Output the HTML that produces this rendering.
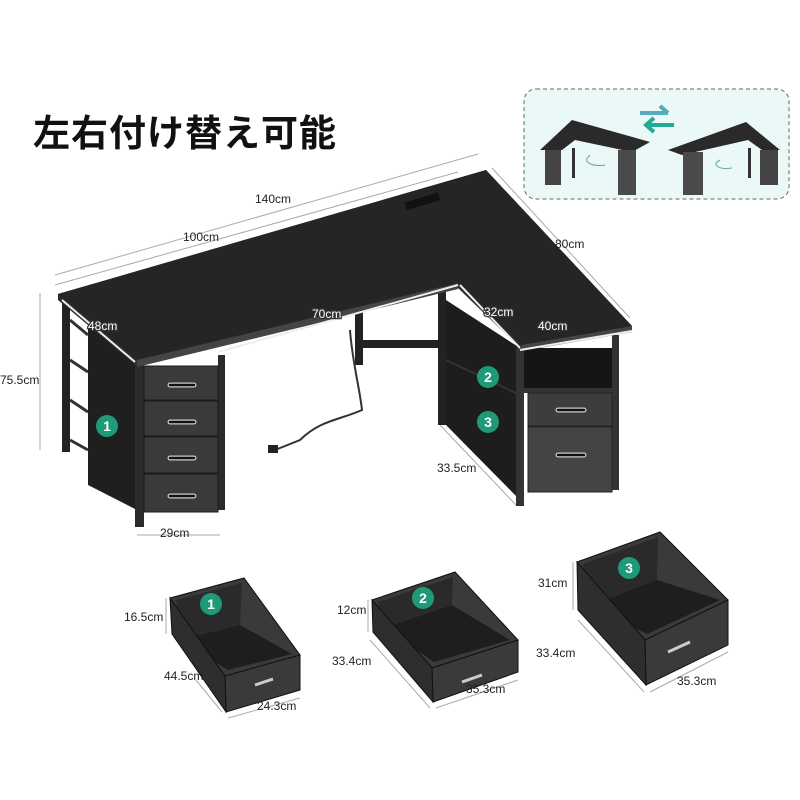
<!DOCTYPE html>
<html><head><meta charset="utf-8"><style>
body{margin:0;background:#fff;width:800px;height:800px;overflow:hidden;font-family:"Liberation Sans","Noto Sans CJK JP",sans-serif}
svg{position:absolute;left:0;top:0}
.t{font-size:12px;fill:#222}
.w{font-size:12px;fill:#fff;stroke:#333;stroke-width:2.5px;paint-order:stroke}
.title{position:absolute;left:33px;top:103px;font-size:37px;font-weight:bold;color:#111;letter-spacing:1px;font-family:"Noto Sans CJK JP",sans-serif}
</style></head><body>
<svg width="800" height="800" viewBox="0 0 800 800">
<!-- inset -->
<rect x="524" y="89" width="265" height="110" rx="12" fill="#eaf8f8" stroke="#666" stroke-dasharray="4,3"/>
<path d="M640 113 L668 113 M660 106 L668 113" stroke="#5ab" stroke-width="4" fill="none"/>
<path d="M674 125 L646 125 M654 118 L646 125 L654 132" stroke="#2a9" stroke-width="4" fill="none"/>
<polygon points="540,150 572,120 650,142 632,152 575,140 562,150" fill="#2a2a2a"/>
<rect x="545" y="150" width="16" height="35" fill="#444"/><rect x="572" y="148" width="3" height="30" fill="#333"/><rect x="618" y="150" width="18" height="45" fill="#4a4a4a"/>
<path d="M590 155c-10 8 5 12 15 10" stroke="#6a8" fill="none"/>
<polygon points="668,150 746,122 780,150 762,150 748,140 682,155" fill="#2a2a2a"/>
<rect x="683" y="152" width="20" height="43" fill="#4a4a4a"/><rect x="748" y="148" width="3" height="30" fill="#333"/><rect x="760" y="150" width="18" height="35" fill="#444"/>
<path d="M720 160c-10 5 0 10 12 8" stroke="#6a8" fill="none"/>
<!-- dimension lines -->
<g stroke="#aaa" stroke-width="1" fill="none">
<line x1="55" y1="275" x2="478" y2="154"/>
<line x1="55" y1="285" x2="458" y2="172"/>
<line x1="492" y1="168" x2="630" y2="318"/>
<line x1="40" y1="293" x2="40" y2="450"/>
<line x1="440" y1="425" x2="516" y2="505"/>
<line x1="137" y1="535" x2="220" y2="535"/>
</g>
<!-- legs/back -->
<g fill="#222">
<rect x="62" y="300" width="8" height="152"/>
<rect x="355" y="305" width="8" height="60"/>
<rect x="363" y="340" width="75" height="8"/>
<rect x="438" y="285" width="8" height="140"/>
</g>
<!-- left side panel -->
<polygon points="70,305 137,362 137,510 88,485 88,320" fill="#1f1f1f"/>
<g stroke="#333" stroke-width="3"><line x1="70" y1="320" x2="88" y2="335"/><line x1="70" y1="360" x2="88" y2="372"/><line x1="70" y1="400" x2="88" y2="412"/><line x1="70" y1="440" x2="88" y2="450"/></g>
<rect x="135" y="362" width="9" height="165" fill="#2b2b2b"/>
<rect x="218" y="355" width="7" height="155" fill="#2b2b2b"/>
<!-- left drawers -->
<g fill="#3a3a3a" stroke="#1a1a1a">
<rect x="144" y="366" width="74" height="34"/><rect x="144" y="401" width="74" height="35"/><rect x="144" y="437" width="74" height="36"/><rect x="144" y="474" width="74" height="38"/>
</g>
<g stroke="#ccc" stroke-width="5" stroke-linecap="round" fill="none"><path d="M170 385h24"/><path d="M170 422h24"/><path d="M170 458h24"/><path d="M170 496h24"/></g>
<g stroke="#111" stroke-width="2.5" stroke-linecap="round" fill="none"><path d="M170 385h24"/><path d="M170 422h24"/><path d="M170 458h24"/><path d="M170 496h24"/></g>
<!-- right pedestal -->
<polygon points="446,300 520,348 520,500 446,425" fill="#1d1d1d"/>
<line x1="446" y1="360" x2="520" y2="395" stroke="#333" stroke-width="2"/>
<rect x="516" y="348" width="8" height="158" fill="#333"/><rect x="612" y="335" width="7" height="155" fill="#333"/>
<rect x="524" y="348" width="88" height="40" fill="#151515"/>
<rect x="524" y="388" width="88" height="5" fill="#333"/>
<rect x="528" y="393" width="84" height="33" fill="#3d3d3d" stroke="#222"/>
<rect x="528" y="427" width="84" height="65" fill="#444" stroke="#222"/>
<path d="M558 410h26M558 455h26" stroke="#ccc" stroke-width="5" stroke-linecap="round"/>
<path d="M558 410h26M558 455h26" stroke="#111" stroke-width="2.5" stroke-linecap="round"/>
<!-- cable -->
<path d="M350 330 C352 360 360 390 362 410 C340 420 320 420 300 440 L275 450" stroke="#333" stroke-width="2" fill="none"/>
<rect x="268" y="445" width="10" height="8" fill="#222"/>
<!-- desk top -->
<polygon points="58,294 486,170 632,326 632,332 522,350 458,288 137,366 58,300" fill="#2c2c2c"/>
<polygon points="58,294 486,170 632,326 522,345 458,283 137,360" fill="#252525"/>
<polygon points="137,360 458,283 458,289 137,367" fill="#444"/>
<polygon points="522,345 632,326 632,332 522,351" fill="#444"/>
<rect x="405" y="198" width="35" height="8" transform="rotate(-17 420 202)" fill="#111"/>
<g stroke="#eee" stroke-width="2" fill="none">
<line x1="62" y1="300" x2="135" y2="362"/>
<line x1="218" y1="352" x2="458" y2="285"/>
<line x1="460" y1="285" x2="520" y2="348"/>
<line x1="520" y1="350" x2="632" y2="331"/>
</g>
<!-- labels -->
<text x="255" y="203" class="t">140cm</text>
<text x="183" y="241" class="t">100cm</text>
<text x="555" y="248" class="t">80cm</text>
<text x="0" y="384" class="t">75.5cm</text>
<text x="88" y="330" class="w">48cm</text>
<text x="312" y="318" class="w">70cm</text>
<text x="484" y="316" class="w">32cm</text>
<text x="538" y="330" class="w">40cm</text>
<text x="437" y="472" class="t">33.5cm</text>
<text x="160" y="537" class="t">29cm</text>
<!-- badges -->
<g fill="#1e9a78"><circle cx="107" cy="426" r="11"/><circle cx="488" cy="377" r="11"/><circle cx="488" cy="422" r="11"/></g>
<g fill="#fff" font-size="14" font-weight="bold" text-anchor="middle"><text x="107" y="431">1</text><text x="488" y="382">2</text><text x="488" y="427">3</text></g>
<!-- bins -->
<g stroke="#111">
<polygon points="170,598 244,578 300,655 225,676" fill="#3a3a3a"/>
<polygon points="176,600 242,583 240,625 180,640" fill="#2a2a2a" stroke="none"/>
<polygon points="180,640 240,625 292,654 228,670" fill="#1e1e1e" stroke="none"/>
<polygon points="225,676 300,655 300,690 226,712" fill="#3a3a3a"/>
<polygon points="170,598 225,676 226,712 172,634" fill="#2e2e2e"/>
<polygon points="372,600 455,572 518,640 432,668" fill="#3a3a3a"/>
<polygon points="378,602 453,577 452,605 385,628" fill="#2a2a2a" stroke="none"/>
<polygon points="385,628 452,605 510,640 434,662" fill="#1e1e1e" stroke="none"/>
<polygon points="432,668 518,640 518,672 433,702" fill="#3a3a3a"/>
<polygon points="372,600 432,668 433,702 373,632" fill="#2e2e2e"/>
<polygon points="577,562 660,532 728,600 645,640" fill="#3a3a3a"/>
<polygon points="583,564 658,537 657,580 590,606" fill="#2a2a2a" stroke="none"/>
<polygon points="590,606 657,580 720,600 647,634" fill="#1e1e1e" stroke="none"/>
<polygon points="645,640 728,600 728,645 646,685" fill="#3a3a3a"/>
<polygon points="577,562 645,640 646,685 578,610" fill="#2e2e2e"/>
</g>
<path d="M255 685l18-6M462 682l20-7M668 652l22-10" stroke="#ccc" stroke-width="3"/>
<g fill="#1e9a78"><circle cx="211" cy="604" r="11"/><circle cx="423" cy="598" r="11"/><circle cx="629" cy="568" r="11"/></g>
<g fill="#fff" font-size="14" font-weight="bold" text-anchor="middle"><text x="211" y="609">1</text><text x="423" y="603">2</text><text x="629" y="573">3</text></g>
<g stroke="#aaa"><line x1="166" y1="598" x2="166" y2="634"/><line x1="196" y1="680" x2="222" y2="712"/><line x1="228" y1="718" x2="300" y2="698"/>
<line x1="368" y1="600" x2="368" y2="632"/><line x1="370" y1="640" x2="430" y2="708"/><line x1="436" y1="708" x2="518" y2="680"/>
<line x1="573" y1="562" x2="573" y2="610"/><line x1="578" y1="620" x2="644" y2="692"/><line x1="650" y1="692" x2="728" y2="652"/></g>
<g font-size="11">
<text x="124" y="621" class="t">16.5cm</text><text x="164" y="680" class="t">44.5cm</text><text x="257" y="710" class="t">24.3cm</text>
<text x="337" y="614" class="t">12cm</text><text x="332" y="665" class="t">33.4cm</text><text x="466" y="693" class="t">35.3cm</text>
<text x="538" y="587" class="t">31cm</text><text x="536" y="657" class="t">33.4cm</text><text x="677" y="685" class="t">35.3cm</text>
</g>
</svg>
<div class="title">左右付け替え可能</div>
</body></html>
